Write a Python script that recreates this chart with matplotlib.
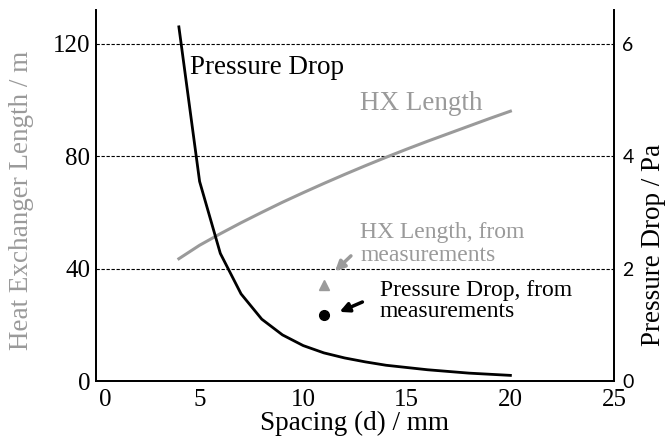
import matplotlib
matplotlib.use('Agg')
import matplotlib.pyplot as plt
import matplotlib.transforms as mtransforms

plt.rcParams['font.family'] = ['Liberation Serif', 'DejaVu Serif']

spacing = [4, 5, 6, 7, 8, 9, 10, 11, 12, 13, 14, 15, 16, 17, 18, 19, 20]
hx_length = [43.5, 48.3, 52.4, 56.3, 60.0, 63.6, 67.0, 70.3, 73.5, 76.6,
             79.6, 82.5, 85.3, 88.0, 90.7, 93.4, 96.0]
pressure_drop = [6.3, 3.55, 2.27, 1.55, 1.1, 0.82, 0.63, 0.5, 0.41, 0.34,
                 0.28, 0.24, 0.2, 0.17, 0.14, 0.12, 0.1]
meas_spacing = [11]
meas_hx_length = [34.2]
meas_pressure_drop = [1.17]

gray = '#9a9a9a'

fig = plt.figure(figsize=(6.69, 4.42), dpi=100)
ax = fig.add_axes([96/669, 61/442, 518/669, 371/442])
ax2 = ax.twinx()

# grid lines on the left axis
for yv in [40, 80, 120]:
    ax.axhline(yv, color='black', lw=0.8, ls=(0, (3, 1.5)), zorder=0)

ax.plot(spacing, hx_length, color=gray, lw=2.2, zorder=3)
ax.plot(meas_spacing, meas_hx_length, marker='^', color=gray, ms=7, ls='none')
ax2.plot(spacing, pressure_drop, color='black', lw=2.0, zorder=3)
ax2.plot(meas_spacing, meas_pressure_drop, marker='o', color='black', ms=7, ls='none')

ax.set_xlim(0, 25)
ax.set_ylim(0, 132)
ax2.set_ylim(0, 6.6)
ax.set_xticks([0, 5, 10, 15, 20, 25])
ax.set_yticks([0, 40, 80, 120])
ax2.set_yticks([0, 2, 4, 6])

for a in (ax, ax2):
    a.spines['top'].set_visible(False)
    for s in ('left', 'right', 'bottom'):
        a.spines[s].set_linewidth(1.3)
    a.tick_params(length=0)

ax.tick_params(axis='x', labelsize=18, pad=6)
ax.tick_params(axis='y', labelsize=18, pad=4)
ax2.tick_params(axis='y', labelsize=14, pad=6)
for lab in ax2.get_yticklabels():
    lab.set_family('Lato')

# nudge the x "0" label off the corner
off = mtransforms.ScaledTranslation(9/100, 0, fig.dpi_scale_trans)
first = ax.get_xticklabels()[0]
first.set_transform(first.get_transform() + off)

ax.set_xlabel('Spacing (d) / mm', fontsize=19.5, labelpad=0)
fig.text(22/669, 1 - 200/442, 'Heat Exchanger Length / m', rotation=90,
         color=gray, fontsize=19.5, ha='center', va='center')
fig.text(653/669, 1 - 245/442, 'Pressure Drop / Pa', rotation=90,
         color='black', fontsize=19.5, ha='center', va='center')

ax.text(4.55, 111.7, 'Pressure Drop', fontsize=19.5, va='center')
ax.text(12.75, 98.9, 'HX Length', fontsize=19.5, color=gray, va='center')
ax.text(12.75, 48.8, 'HX Length, from\nmeasurements', fontsize=17, color=gray,
        va='center', linespacing=1.1)
ax.text(13.7, 28.6, 'Pressure Drop, from\nmeasurements', fontsize=17,
        color='black', va='center', linespacing=1.0)

ax.annotate('', xy=(11.44, 38.4), xytext=(12.4, 45.2),
            arrowprops=dict(arrowstyle='-|>', color=gray, lw=2.5, mutation_scale=14))
ax.annotate('', xy=(11.63, 24.2), xytext=(12.98, 28.5),
            arrowprops=dict(arrowstyle='-|>', color='black', lw=2.5, mutation_scale=14))

fig.savefig('out.png', dpi=100)
